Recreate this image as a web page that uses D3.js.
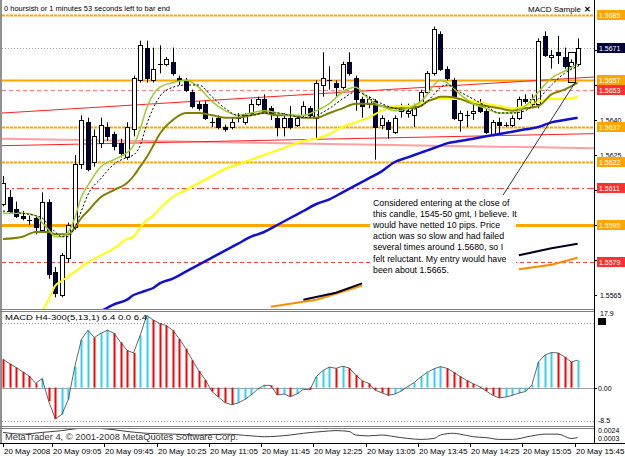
<!DOCTYPE html>
<html>
<head>
<meta charset="utf-8">
<script src="https://cdn.jsdelivr.net/npm/d3@7/dist/d3.min.js"></script>
<style>
  body { margin: 0; background: #fff; }
  svg { display: block; font-family: "Liberation Sans", Arial, sans-serif; }
</style>
</head>
<body>
<div id="chart"></div>
<script>
// ---- data (5 minute bars, 20 May 2008 08:25 .. 15:45) ----
const opens  = [1.5604,1.5607,1.5602,1.5599,1.5597,1.5598,1.5593,1.5605,1.5575,1.5565,1.5581,1.5594,1.5621,1.5639,1.5622,1.5630,1.5637,1.5634,1.5630,1.5624,1.5636,1.5657,1.5671,1.5657,1.5664,1.5664,1.5665,1.5658,1.5657,1.5652,1.5647,1.5647,1.5639,1.5641,1.5637,1.5637,1.5641,1.5639,1.5643,1.5647,1.5649,1.5645,1.5641,1.5637,1.5641,1.5638,1.5642,1.5645,1.5641,1.5655,1.5657,1.5656,1.5654,1.5665,1.5658,1.5649,1.5647,1.5648,1.5638,1.5639,1.5635,1.5644,1.5643,1.5642,1.5647,1.5652,1.5660,1.5677,1.5662,1.5657,1.5640,1.5642,1.5643,1.5647,1.5644,1.5634,1.5639,1.5638,1.5638,1.5641,1.5649,1.5647,1.5647,1.5676,1.5667,1.5669,1.5667,1.5663,1.5664];
const highs  = [1.5616,1.5610,1.5605,1.5601,1.5599,1.5599,1.5609,1.5606,1.5577,1.5583,1.5596,1.5625,1.5642,1.5641,1.5636,1.5641,1.5639,1.5635,1.5632,1.5639,1.5659,1.5674,1.5674,1.5671,1.5672,1.5667,1.5671,1.5659,1.5658,1.5653,1.5648,1.5648,1.5641,1.5642,1.5638,1.5641,1.5643,1.5643,1.5649,1.5650,1.5651,1.5646,1.5642,1.5643,1.5646,1.5642,1.5648,1.5646,1.5657,1.5669,1.5663,1.5657,1.5665,1.5669,1.5659,1.5650,1.5650,1.5649,1.5642,1.5640,1.5642,1.5647,1.5647,1.5647,1.5653,1.5661,1.5680,1.5678,1.5663,1.5658,1.5644,1.5644,1.5647,1.5649,1.5645,1.5640,1.5641,1.5639,1.5642,1.5650,1.5651,1.5651,1.5675,1.5678,1.5670,1.5676,1.5671,1.5666,1.5675];
const lows   = [1.5603,1.5600,1.5598,1.5597,1.5595,1.5591,1.5592,1.5572,1.5564,1.5564,1.5579,1.5593,1.5619,1.5618,1.5620,1.5628,1.5631,1.5627,1.5624,1.5623,1.5633,1.5656,1.5656,1.5656,1.5660,1.5663,1.5659,1.5655,1.5652,1.5645,1.5644,1.5640,1.5637,1.5636,1.5635,1.5636,1.5639,1.5638,1.5642,1.5646,1.5643,1.5640,1.5633,1.5633,1.5636,1.5637,1.5641,1.5641,1.5632,1.5650,1.5653,1.5650,1.5653,1.5659,1.5644,1.5641,1.5645,1.5623,1.5636,1.5632,1.5634,1.5641,1.5641,1.5637,1.5646,1.5651,1.5659,1.5661,1.5657,1.5640,1.5635,1.5637,1.5640,1.5643,1.5634,1.5633,1.5634,1.5637,1.5637,1.5640,1.5647,1.5645,1.5645,1.5667,1.5662,1.5664,1.5662,1.5662,1.5663];
const closes = [1.5613,1.5601,1.5599,1.5598,1.5597,1.5594,1.5605,1.5574,1.5566,1.5582,1.5595,1.5621,1.5640,1.5619,1.5633,1.5638,1.5633,1.5629,1.5626,1.5637,1.5658,1.5672,1.5658,1.5662,1.5664,1.5666,1.5660,1.5657,1.5653,1.5646,1.5645,1.5641,1.5639,1.5637,1.5636,1.5639,1.5641,1.5642,1.5647,1.5649,1.5644,1.5643,1.5637,1.5641,1.5637,1.5641,1.5646,1.5642,1.5656,1.5658,1.5657,1.5654,1.5664,1.5660,1.5649,1.5646,1.5649,1.5637,1.5641,1.5636,1.5641,1.5644,1.5644,1.5646,1.5652,1.5660,1.5679,1.5662,1.5658,1.5641,1.5643,1.5642,1.5644,1.5644,1.5635,1.5639,1.5638,1.5638,1.5641,1.5649,1.5648,1.5649,1.5674,1.5668,1.5668,1.5668,1.5663,1.5665,1.5671];

// moving averages, read at these bars
const maBars = [0,3,5,6,7,8,9,10,11,12,13,15,17,19,20,21,22,23,24,26,28,30,32,34,36,38,40,42,44,46,48,50,52,54,56,58,60,62,64,65,66,67,68,70,72,74,76,78,80,82,84,86,88];
const maFast = [1.5600,1.5600,1.5599,1.5596,1.5593,1.5590,1.5590,1.5592,1.5598,1.5607,1.5612,1.5620,1.5623,1.5626,1.5629,1.5636,1.5645,1.5651,1.5654,1.5656,1.5657,1.5654,1.5648,1.5644,1.5642,1.5643,1.5644,1.5643,1.5642,1.5642,1.5644,1.5647,1.5652,1.5654,1.5649,1.5646,1.5644,1.5645,1.5648,1.5651,1.5655,1.5657,1.5656,1.5651,1.5647,1.5645,1.5643,1.5643,1.5646,1.5652,1.5658,1.5661,1.5664];
const maDash = [1.5601,1.5600,1.5599,1.5598,1.5595,1.5592,1.5590,1.5590,1.5594,1.5601,1.5608,1.5615,1.5621,1.5624,1.5625,1.5629,1.5638,1.5645,1.5650,1.5654,1.5655,1.5655,1.5650,1.5645,1.5642,1.5642,1.5643,1.5643,1.5642,1.5641,1.5642,1.5645,1.5649,1.5652,1.5650,1.5647,1.5645,1.5644,1.5646,1.5648,1.5651,1.5654,1.5655,1.5652,1.5649,1.5646,1.5643,1.5643,1.5644,1.5649,1.5655,1.5660,1.5663];
const maOlive = [1.5589,1.5590,1.5592,1.5592,1.5592,1.5591,1.5591,1.5591,1.5594,1.5598,1.5601,1.5607,1.5610,1.5613,1.5616,1.5620,1.5624,1.5629,1.5634,1.5640,1.5643,1.5643,1.5642,1.5641,1.5641,1.5642,1.5643,1.5642,1.5642,1.5641,1.5641,1.5643,1.5645,1.5647,1.5647,1.5646,1.5645,1.5645,1.5646,1.5648,1.5649,1.5650,1.5650,1.5649,1.5647,1.5646,1.5645,1.5644,1.5645,1.5646,1.5651,1.5653,1.5656];
const maYellow = [null,null,null,1.5558,1.5563,1.5569,1.5571,1.5573,1.5575,1.5577,1.5579,1.5582,1.5585,1.5589,1.5590,1.5594,1.5597,1.5599,1.5602,1.5607,1.5610,1.5613,1.5616,1.5619,1.5621,1.5623,1.5625,1.5627,1.5629,1.5631,1.5632,1.5634,1.5637,1.5639,1.5641,1.5644,1.5646,1.5646,1.5647,1.5648,1.5649,1.5649,1.5649,1.5649,1.5648,1.5647,1.5646,1.5645,1.5646,1.5648,1.5649,1.5649,1.5650];
const maBlue = [null,null,null,null,null,null,null,null,null,null,null,1.5558,1.5561,1.5563,1.5565,1.5566,1.5567,1.5568,1.5570,1.5572,1.5575,1.5578,1.5581,1.5584,1.5587,1.5590,1.5592,1.5595,1.5598,1.5601,1.5604,1.5606,1.5609,1.5612,1.5615,1.5618,1.5622,1.5624,1.5626,1.5627,1.5628,1.5629,1.5630,1.5631,1.5632,1.5633,1.5634,1.5635,1.5636,1.5637,1.5639,1.5640,1.5641];

// short higher-timeframe segments near the bottom
const orangeSegs = [[[41,1.5560],[48,1.5563],[55,1.5569]], [[79,1.5576],[84,1.5578],[88,1.5581]]];
const blackSegs  = [[[46,1.5563],[51,1.5566],[55,1.5570]], [[79,1.5582],[84,1.5585],[88,1.5587]]];

// horizontal levels
const orangeLevels = [1.5685, 1.5657, 1.5637, 1.5622, 1.5595];
const orangeDotted = [true, false, true, true, false];
const redLevels = [1.5653, 1.5611, 1.5579];
const redDash = ["4,3", "7,3,2,3", "4,3"];
const bidPrice = 1.5671;
const axisPrices = [1.5670, 1.5655, 1.5640, 1.5625, 1.5610, 1.5595, 1.5580, 1.5565];

// trend lines [bar, price]
const trendRed = [[0, 1.5643], [88, 1.5658]];
const chanRed  = [[0, 1.5629], [88, 1.5634]];
const chanPink = [[0, 1.5632], [88, 1.5628]];
const pointer  = [[76.4, 1.5607], [87.6, 1.5656]];
const markBox  = [[86.6, 1.5669], [87.7, 1.5656]];

// MACD H4-300(5,13,1)
const macd = [6.6,5.6,4.7,3.7,2.7,1.0,2.1,-3.2,-7.3,-6.3,-2.8,4.9,11.2,13.4,11.7,12.7,13.4,12.7,10.6,8.7,8.1,12.2,16.8,15.8,15.0,14.5,13.4,11.4,9.1,6.4,3.9,1.8,-0.9,-2.2,-3.5,-4.0,-3.6,-2.8,-1.7,-0.4,0.55,0.5,-1.7,-1.5,-2.1,-1.5,-0.4,-0.5,2.6,4.0,4.8,4.5,5.0,4.6,3.0,1.6,1.0,-0.6,-1.2,-1.8,-1.5,-0.8,0.3,1.2,2.5,3.6,4.4,4.9,4.5,3.6,2.6,1.7,0.9,0.2,-0.8,-1.8,-2.4,-2.2,-1.8,-1.3,-0.9,0.6,6.0,7.6,8.2,8.1,7.2,6.0,6.4];
const macdLevels = [15, -7.8];

// bottom indicator
const lowBars = [0,3,6,9,11,13,17,19,22,26,30,34,38,40,44,46,49,51,53,54,56,58,60,62,64,66,67,69,70,72,74,76,78,81,83,85,87,88];
const lowVals = [0.00174,0.00148,0.00174,0.00201,0.00227,0.0024,0.00214,0.00188,0.00161,0.00148,0.00135,0.00148,0.00122,0.00109,0.00135,0.00161,0.00188,0.00201,0.00188,0.00135,0.00122,0.00135,0.00109,0.00083,0.00069,0.00083,0.00135,0.00161,0.00148,0.00109,0.00096,0.00069,0.00069,0.00122,0.00148,0.00148,0.00083,0.00096];

const timeBars = [0,8,16,24,32,40,48,56,64,72,80,88];
const timeLabels = ["20 May 2008","20 May 09:05","20 May 09:45","20 May 10:25","20 May 11:05","20 May 11:45","20 May 12:25","20 May 13:05","20 May 13:45","20 May 14:25","20 May 15:05","20 May 15:45"];

const note = ["Considered entering at the close of","this candle, 1545-50 gmt, I believe. It","would have netted 10 pips. Price","action was so slow and had failed","several times around 1.5680, so I","felt reluctant.  My entry would have","been about 1.5665."];

// ---- drawing ----
const W = 625, H = 457, R = 594;
const svg = d3.select("#chart").append("svg").attr("width", W).attr("height", H);

const x = d3.scaleLinear().domain([0, 88]).range([3, 577.6]);
const y = d3.scaleLinear().domain([1.5565, 1.5685]).range([295, 15]);
const ym = d3.scaleLinear().domain([-8.5, 17.9]).range([424, 311]);
const yb = d3.scaleLinear().domain([0.0003, 0.0024]).range([442, 428]);
const px = i => Math.round(x(i)) + 0.5;

const defs = svg.append("defs");
function clip(id, y0, y1) {
  defs.append("clipPath").attr("id", id).append("rect").attr("x", 2).attr("y", y0).attr("width", R - 2).attr("height", y1 - y0);
}
clip("cMain", 0, 309); clip("cMacd", 312, 426); clip("cLow", 428, 443);

const main = svg.append("g").attr("clip-path", "url(#cMain)");

// horizontal levels
orangeLevels.forEach((p, k) => {
  main.append("line").attr("x1", 2).attr("x2", R).attr("y1", Math.round(y(p)) + 0.5).attr("y2", Math.round(y(p)) + 0.5)
    .attr("stroke", "#FFA500").attr("stroke-width", k === 4 ? 3 : 2)
    .attr("stroke-dasharray", orangeDotted[k] ? "3,1" : null);
});
redLevels.forEach((p, k) => {
  main.append("line").attr("x1", 2).attr("x2", R).attr("y1", Math.round(y(p)) + 0.5).attr("y2", Math.round(y(p)) + 0.5)
    .attr("stroke", k === 0 ? "#FF8080" : "#FF4040").attr("stroke-width", 1).attr("stroke-dasharray", redDash[k]);
});
main.append("line").attr("x1", 2).attr("x2", R).attr("y1", Math.round(y(bidPrice)) + 0.5).attr("y2", Math.round(y(bidPrice)) + 0.5)
  .attr("stroke", "#A0A0A0").attr("stroke-dasharray", "1,2");

// trend lines, extended to the right edge
function extLine(pts, color, w) {
  const [a, b] = pts;
  const slope = (b[1] - a[1]) / (b[0] - a[0]);
  const xr = x.invert(R);
  main.append("line").attr("x1", x(-1)).attr("y1", y(a[1] + slope * (-1 - a[0])))
    .attr("x2", R).attr("y2", y(a[1] + slope * (xr - a[0])))
    .attr("stroke", color).attr("stroke-width", w);
}
extLine(trendRed, "#FF2020", 1);
extLine(chanPink, "#FFA0A0", 2);
extLine(chanRed, "#FF2020", 1);

// candles
const candles = main.append("g");
d3.range(opens.length).forEach(i => {
  const o = opens[i], c = closes[i], bull = c >= o;
  candles.append("line").attr("x1", px(i)).attr("x2", px(i)).attr("y1", y(highs[i])).attr("y2", y(lows[i]))
    .attr("stroke", "#000").attr("stroke-width", 1);
  const top = Math.round(y(Math.max(o, c))), bot = Math.round(y(Math.min(o, c)));
  if (bot - top < 1) {
    candles.append("line").attr("x1", px(i) - 2.5).attr("x2", px(i) + 2.5).attr("y1", top + 0.5).attr("y2", top + 0.5).attr("stroke", "#000");
  } else {
    candles.append("rect").attr("x", px(i) - 2).attr("y", top + 0.5).attr("width", 4).attr("height", bot - top)
      .attr("fill", bull ? "#fff" : "#000040").attr("stroke", "#000").attr("stroke-width", 1);
  }
});

// moving averages
const maLine = d3.line().defined(d => d[1] != null).x(d => x(d[0])).y(d => y(d[1])).curve(d3.curveMonotoneX);
function ma(vals, color, w, dash) {
  main.append("path").datum(maBars.map((b, k) => [b, vals[k]])).attr("d", maLine)
    .attr("fill", "none").attr("stroke", color).attr("stroke-width", w).attr("stroke-dasharray", dash || null);
}
ma(maBlue, "#1010D0", 2.5);
ma(maYellow, "#FFFF00", 2);
ma(maOlive, "#808000", 2);
ma(maFast, "#9ACD32", 1.5);
ma(maDash, "#000", 1, "2,2");

const segLine = d3.line().x(d => x(d[0])).y(d => y(d[1]));
orangeSegs.forEach(s => main.append("path").datum(s).attr("d", segLine).attr("fill", "none").attr("stroke", "#FF8C00").attr("stroke-width", 2));
blackSegs.forEach(s => main.append("path").datum(s).attr("d", segLine).attr("fill", "none").attr("stroke", "#000020").attr("stroke-width", 2));

// marked candle box and pointer line from the note
main.append("rect").attr("x", Math.round(x(markBox[0][0])) + 0.5).attr("y", Math.round(y(markBox[0][1])) + 0.5)
  .attr("width", Math.round(x(markBox[1][0]) - x(markBox[0][0]))).attr("height", Math.round(y(markBox[1][1]) - y(markBox[0][1])))
  .attr("fill", "none").attr("stroke", "#000");
main.append("line").attr("x1", x(pointer[0][0])).attr("y1", y(pointer[0][1])).attr("x2", x(pointer[1][0])).attr("y2", y(pointer[1][1]))
  .attr("stroke", "#000").attr("stroke-width", 0.8);

// note text on a white box
const noteG = svg.append("g").attr("font-size", 8.8).attr("fill", "#000");
noteG.append("rect").attr("x", 370).attr("y", 195).attr("width", 146).attr("height", 82).attr("fill", "#fff");
note.forEach((t, k) => noteG.append("text").attr("x", 373).attr("y", 206 + k * 11.1).text(t));

// header texts
svg.append("text").attr("x", 4).attr("y", 11).attr("font-size", 8).attr("textLength", 166).attr("lengthAdjust", "spacingAndGlyphs")
  .text("0 hoursish or 1 minutes 53 seconds left to bar end");
svg.append("text").attr("x", 528).attr("y", 12).attr("font-size", 8).text("MACD Sample");
svg.append("text").attr("x", 584).attr("y", 12).attr("font-size", 8).attr("font-weight", "bold").text("✕");

// ---- MACD panel ----
const mg = svg.append("g").attr("clip-path", "url(#cMacd)");
macdLevels.forEach(v => mg.append("line").attr("x1", 2).attr("x2", R).attr("y1", Math.round(ym(v)) + 0.5).attr("y2", Math.round(ym(v)) + 0.5)
  .attr("stroke", "#A0A0A0").attr("stroke-dasharray", "1,2"));
mg.append("line").attr("x1", 2).attr("x2", R).attr("y1", Math.round(ym(0)) + 0.5).attr("y2", Math.round(ym(0)) + 0.5).attr("stroke", "#A0A0A0");
macd.forEach((v, i) => {
  const up = i === 0 ? false : v >= macd[i - 1];
  mg.append("line").attr("x1", px(i)).attr("x2", px(i)).attr("y1", ym(0)).attr("y2", ym(v))
    .attr("stroke", up ? "#33CCFF" : "#FF0000").attr("stroke-width", 2);
});
mg.append("path").datum(macd).attr("d", d3.line().x((d, i) => x(i)).y(d => ym(d)))
  .attr("fill", "none").attr("stroke", "#404040").attr("stroke-width", 0.8);
svg.append("text").attr("x", 5).attr("y", 320).attr("font-size", 8).attr("textLength", 142).attr("lengthAdjust", "spacingAndGlyphs")
  .text("MACD H4-300(5,13,1) 6.4 0.0 6.4");

// ---- bottom panel ----
const lg = svg.append("g").attr("clip-path", "url(#cLow)");
lg.append("path").datum(lowBars.map((b, k) => [b, lowVals[k]])).attr("d", d3.line().x(d => x(d[0])).y(d => yb(d[1])).curve(d3.curveMonotoneX))
  .attr("fill", "none").attr("stroke", "#404040").attr("stroke-width", 1);
svg.append("text").attr("x", 5).attr("y", 440).attr("font-size", 8.5).attr("fill", "#333").attr("textLength", 233).attr("lengthAdjust", "spacingAndGlyphs")
  .text("MetaTrader 4, © 2001-2008 MetaQuotes Software Corp.");

// ---- frame ----
const frame = svg.append("g").attr("stroke", "#808080").attr("fill", "none");
frame.append("rect").attr("x", 0).attr("y", 0).attr("width", 2).attr("height", 443).attr("fill", "#909090").attr("stroke", "none");
frame.append("line").attr("x1", 0).attr("x2", R).attr("y1", 309.5).attr("y2", 309.5);
frame.append("line").attr("x1", 0).attr("x2", R).attr("y1", 311.5).attr("y2", 311.5);
frame.append("line").attr("x1", 0).attr("x2", R).attr("y1", 426.5).attr("y2", 426.5);
frame.append("line").attr("x1", 0).attr("x2", R).attr("y1", 428.5).attr("y2", 428.5);
frame.append("line").attr("x1", 0).attr("x2", W).attr("y1", 443.5).attr("y2", 443.5).attr("stroke", "#000");
frame.append("line").attr("x1", R + 0.5).attr("x2", R + 0.5).attr("y1", 0).attr("y2", 444).attr("stroke", "#000");

// ---- price axis ----
const ax = svg.append("g").attr("font-size", 7).attr("fill", "#000");
const tagPrices = orangeLevels.concat(redLevels, [bidPrice]);
axisPrices.forEach(p => {
  const yy = Math.round(y(p)) + 0.5;
  ax.append("line").attr("x1", R).attr("x2", R + 3).attr("y1", yy).attr("y2", yy).attr("stroke", "#000");
  // labels hidden under a coloured level tag are not drawn
  if (tagPrices.some(t => Math.abs(y(t) - y(p)) < 6)) return;
  ax.append("text").attr("x", 600).attr("y", yy + 2.5).text(p.toFixed(4));
});
function tag(p, bg) {
  const yy = Math.round(y(p));
  ax.append("rect").attr("x", 597).attr("y", yy - 5).attr("width", 28).attr("height", 10).attr("fill", bg);
  ax.append("text").attr("x", 599).attr("y", yy + 3).attr("fill", "#fff").text(p.toFixed(4));
}
orangeLevels.forEach(p => tag(p, "#FFA500"));
redLevels.forEach(p => tag(p, "#FF3030"));
tag(bidPrice, "#000040");

// MACD / bottom axis labels
ax.append("text").attr("x", 600).attr("y", 316).text("17.9");
ax.append("rect").attr("x", 598).attr("y", 318).attr("width", 8).attr("height", 7).attr("fill", "#000");
ax.append("text").attr("x", 598).attr("y", 391).text(" 0.00");
ax.append("line").attr("x1", R).attr("x2", R + 3).attr("y1", Math.round(ym(0)) + 0.5).attr("y2", Math.round(ym(0)) + 0.5).attr("stroke", "#000");
ax.append("text").attr("x", 598).attr("y", 423).text("-8.5");
ax.append("text").attr("x", 598).attr("y", 433).text("0.0024");
ax.append("text").attr("x", 598).attr("y", 441).text("0.0003");

// ---- time axis ----
const tg = svg.append("g").attr("font-size", 8).attr("fill", "#000");
timeBars.forEach((b, k) => {
  const tx = k === 0 ? 3 : Math.round(x(b)) - 3;
  tg.append("line").attr("x1", tx + 0.5).attr("x2", tx + 0.5).attr("y1", 443).attr("y2", 447).attr("stroke", "#000");
  tg.append("text").attr("x", tx + 1).attr("y", 454).text(timeLabels[k]);
});
</script>
</body>
</html>
